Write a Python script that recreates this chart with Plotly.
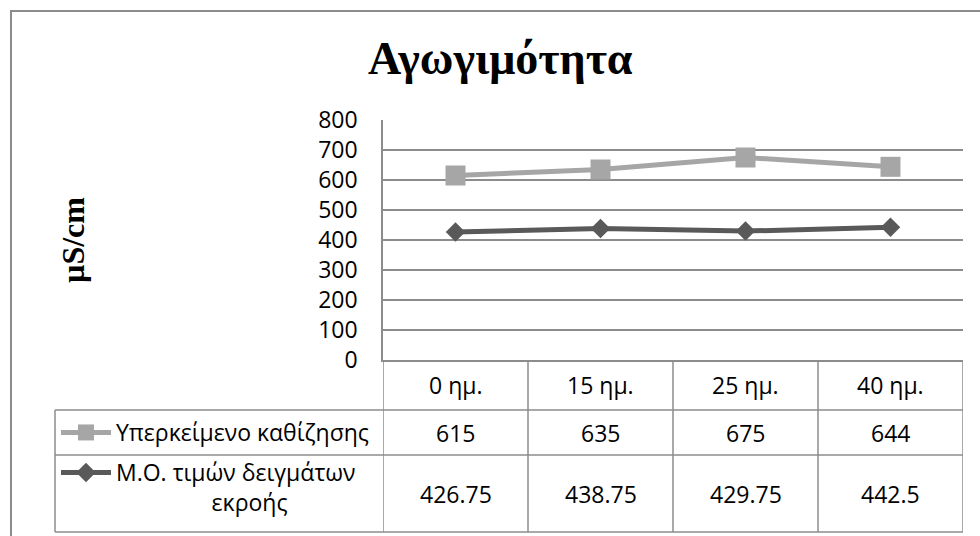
import plotly.graph_objects as go

# Sampling days and conductivity readings (µS/cm)
days = ["0 ημ.", "15 ημ.", "25 ημ.", "40 ημ."]
supernatant = [615, 635, 675, 644]
effluent_mean = [426.75, 438.75, 429.75, 442.5]
series_names = ["Υπερκείμενο καθίζησης", "Μ.Ο. τιμών δειγμάτων εκροής"]
y_ticks = [0, 100, 200, 300, 400, 500, 600, 700, 800]

W, H = 980, 536
GRID = "#8c8c8c"
LIGHT = "#a6a6a6"
DARK = "#595959"
SANS = "Open Sans"
SERIF = "Liberation Serif"
FS = 23


def px(x):
    return x / W


def py(y):
    return 1 - y / H


fig = go.Figure()

fig.add_trace(go.Scatter(
    x=days, y=supernatant, name=series_names[0], mode="lines+markers",
    line=dict(color=LIGHT, width=5),
    marker=dict(symbol="square", size=20, color=LIGHT),
    legend="legend",
))
fig.add_trace(go.Scatter(
    x=days, y=effluent_mean,
    name="Μ.Ο. τιμών δειγμάτων<br>" + "\u00a0" * 16 + "εκροής",
    mode="lines+markers",
    line=dict(color=DARK, width=5),
    marker=dict(symbol="diamond", size=15, color=DARK),
    legend="legend2",
))

plot_left, plot_right = 383, 963
plot_top, plot_bottom = 120, 360
row_lines = [410, 455, 532]
table_left = 55

shapes = []
# outer chart frame (runs past the right and bottom edges)
shapes.append(dict(type="rect", xref="paper", yref="paper",
                   x0=px(11), x1=px(1000), y0=py(11), y1=py(560),
                   line=dict(color=GRID, width=2)))
# horizontal table rules
for yy in row_lines:
    shapes.append(dict(type="line", xref="paper", yref="paper",
                       x0=px(table_left), x1=px(plot_right), y0=py(yy), y1=py(yy),
                       line=dict(color=GRID, width=1.5)))
# left edge of the series-name column
shapes.append(dict(type="line", xref="paper", yref="paper",
                   x0=px(table_left), x1=px(table_left), y0=py(row_lines[0]), y1=py(row_lines[-1]),
                   line=dict(color=GRID, width=1.5)))
# column separators at category boundaries
for i in range(len(days) + 1):
    shapes.append(dict(type="line", xref="x", yref="paper",
                       x0=i - 0.5, x1=i - 0.5, y0=py(plot_bottom), y1=py(row_lines[-1]),
                       line=dict(color=GRID, width=1.5)))

annotations = []
# title
annotations.append(dict(text="<b>Αγωγιμότητα</b>", xref="paper", yref="paper",
                        x=px(500), y=py(58), xanchor="center", yanchor="middle",
                        showarrow=False, font=dict(family=SERIF, size=46, color="black")))
# y-axis unit
annotations.append(dict(text="<b>µS/cm</b>", xref="paper", yref="paper",
                        x=px(73), y=py(240), xanchor="center", yanchor="middle",
                        textangle=-90, showarrow=False,
                        font=dict(family=SERIF, size=32, color="black")))
# header row and data rows of the table
row_centers = [(plot_bottom + row_lines[0]) / 2,
               (row_lines[0] + row_lines[1]) / 2,
               (row_lines[1] + row_lines[2]) / 2]
for i, d in enumerate(days):
    annotations.append(dict(text=d, xref="x", yref="paper", x=d, y=py(row_centers[0]),
                            xanchor="center", yanchor="middle", showarrow=False,
                            font=dict(family=SANS, size=FS, color="black")))
    annotations.append(dict(text=f"{supernatant[i]:g}", xref="x", yref="paper", x=d,
                            y=py(row_centers[1]), xanchor="center", yanchor="middle",
                            showarrow=False, font=dict(family=SANS, size=FS, color="black")))
    annotations.append(dict(text=f"{effluent_mean[i]:g}", xref="x", yref="paper", x=d,
                            y=py(row_centers[2]), xanchor="center", yanchor="middle",
                            showarrow=False, font=dict(family=SANS, size=FS, color="black")))

legend_common = dict(bgcolor="rgba(0,0,0,0)", borderwidth=0, itemwidth=50,
                     font=dict(family=SANS, size=FS, color="black"),
                     xanchor="left", itemclick=False, itemdoubleclick=False)

fig.update_layout(
    width=W, height=H, autosize=False,
    margin=dict(l=0, r=0, t=0, b=0, autoexpand=False),
    paper_bgcolor="white", plot_bgcolor="white",
    showlegend=True,
    legend=dict(x=px(56), y=py(row_centers[1]), yanchor="middle", **legend_common),
    legend2=dict(x=px(56), y=py(row_lines[1] - 4), yanchor="top", valign="top", **legend_common),
    xaxis=dict(domain=[px(plot_left), px(plot_right)], type="category",
               range=[-0.5, len(days) - 0.5], showgrid=False, showticklabels=False,
               showline=True, linecolor=GRID, linewidth=1.5, zeroline=False, ticks="",
               automargin=False),
    yaxis=dict(domain=[py(plot_bottom), py(plot_top)], range=[0, 800],
               tickvals=y_ticks, showgrid=True, gridcolor=GRID, gridwidth=1.5,
               showline=True, linecolor=GRID, linewidth=1.5, zeroline=False,
               ticks="outside", ticklen=19, tickcolor="rgba(0,0,0,0)",
               tickfont=dict(family=SANS, size=FS, color="black"), automargin=False),
    shapes=shapes,
    annotations=annotations,
)

fig.write_html("out.html")
